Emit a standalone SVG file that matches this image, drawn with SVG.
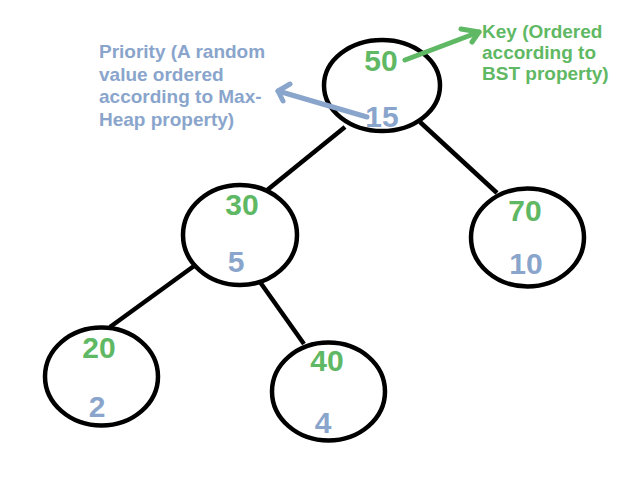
<svg xmlns="http://www.w3.org/2000/svg" width="632" height="484" viewBox="0 0 632 484">
<style>
.node ellipse{fill:#fff;stroke:#000;stroke-width:4.5}
.edge{stroke:#000;stroke-width:4.5;fill:none}
.k{font-family:"Liberation Sans",Arial,sans-serif;font-weight:bold;font-size:30px;fill:#5fb863;text-anchor:middle}
.p{font-family:"Liberation Sans",Arial,sans-serif;font-weight:bold;font-size:30px;fill:#8aa5cc;text-anchor:middle}
.lg{font-family:"Liberation Sans",Arial,sans-serif;font-weight:bold;font-size:19px;fill:#5fb863}
.lb{font-family:"Liberation Sans",Arial,sans-serif;font-weight:bold;font-size:19px;fill:#8aa5cc}
.ag{stroke:#5fb863;stroke-width:5;fill:none;stroke-linecap:round;stroke-linejoin:round}
.ab{stroke:#8aa5cc;stroke-width:5;fill:none;stroke-linecap:round;stroke-linejoin:round}
</style>
<rect width="632" height="484" fill="#fff"/>
<g id="connectors">
<line class="edge" x1="345" y1="127" x2="266" y2="191"/>
<line class="edge" x1="420" y1="122" x2="497" y2="193"/>
<line class="edge" x1="194" y1="266" x2="110" y2="327"/>
<line class="edge" x1="260" y1="282" x2="304" y2="344"/>
</g>
<g id="n50" class="node"><ellipse cx="382" cy="85.5" rx="58" ry="45.5"/><text class="k" x="381" y="71">50</text><text class="p" x="382" y="127">15</text></g>
<g id="n30" class="node"><ellipse cx="240" cy="235" rx="57" ry="50"/><text class="k" x="242" y="215">30</text><text class="p" x="236" y="272">5</text></g>
<g id="n70" class="node"><ellipse cx="527.5" cy="237.5" rx="56.5" ry="49"/><text class="k" x="525" y="221">70</text><text class="p" x="526" y="274">10</text></g>
<g id="n20" class="node"><ellipse cx="101.5" cy="376.5" rx="56.5" ry="49"/><text class="k" x="99" y="358">20</text><text class="p" x="97" y="417">2</text></g>
<g id="n40" class="node"><ellipse cx="328.5" cy="391.5" rx="56.5" ry="49"/><text class="k" x="327" y="371">40</text><text class="p" x="323" y="433">4</text></g>
<g id="key-label">
<text class="lg" x="482" y="38">Key (Ordered</text>
<text class="lg" x="482" y="59">according to</text>
<text class="lg" x="482" y="80">BST property)</text>
<polyline class="ag" points="405,60 479,32"/>
<polyline class="ag" points="461,29 479,32 472,42"/>
</g>
<g id="priority-label">
<text class="lb" x="99" y="58">Priority (A random</text>
<text class="lb" x="99" y="80.5">value ordered</text>
<text class="lb" x="99" y="103">according to Max-</text>
<text class="lb" x="99" y="125.5">Heap property)</text>
<polyline class="ab" points="367,117 278,91"/>
<polyline class="ab" points="290,84 278,91 283,101"/>
</g>
</svg>
